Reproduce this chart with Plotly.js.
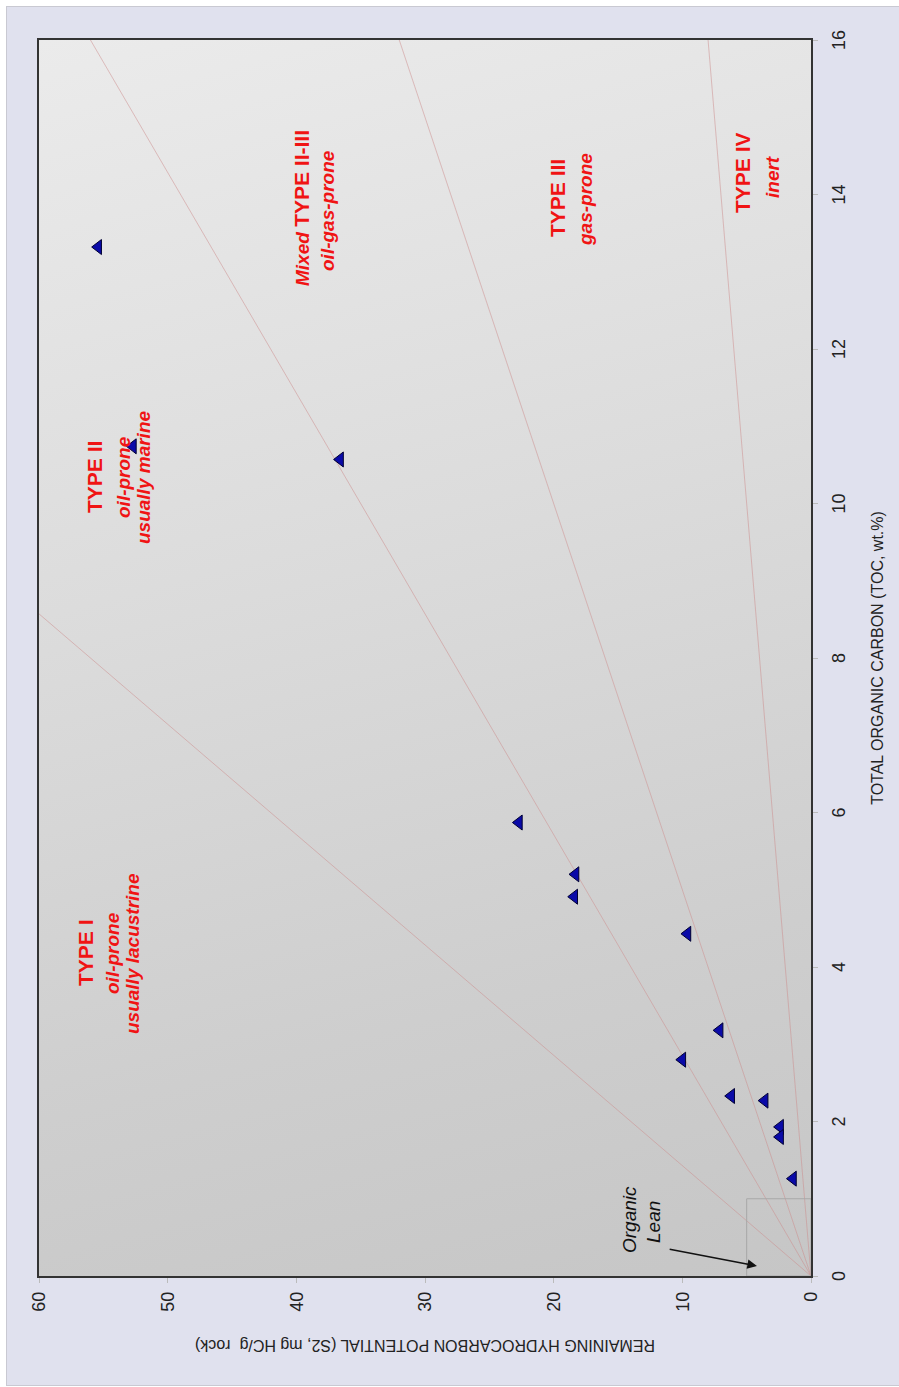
<!DOCTYPE html>
<html>
<head>
<meta charset="utf-8">
<script src="https://cdn.plot.ly/plotly-3.0.1.min.js"></script>
<style>
  html, body { margin:0; padding:0; background:#ffffff; width:899px; height:1387px; overflow:hidden; }
  #frame { position:absolute; left:6px; top:6px; width:893px; height:1378px; background:#e0e1ee;
           border-left:1px solid #c9c9d2; border-top:1px solid #c9c9d2; border-bottom:1px solid #c9c9d2; }
  #grad { position:absolute; left:39px; top:40px; width:772px; height:1236px;
          background:linear-gradient(165deg, #ebebeb 0%, #dcdcdc 40%, #cecece 75%, #c6c6c6 100%); }
  #wrap { position:absolute; left:0; top:0; width:1387px; height:899px;
          transform-origin:0 0; transform:translate(0px,1387px) rotate(-90deg); }
</style>
</head>
<body>
<div id="frame"></div>
<div id="grad"></div>
<div id="wrap"><div id="chart" style="width:1387px;height:899px;"></div></div>
<script>
// ---- data (TOC wt.% vs S2 mg HC/g rock) ----
const tocValues = [13.32, 10.74, 10.57, 5.87, 5.20, 4.91, 4.43, 3.18, 2.80, 2.33, 2.27, 1.93, 1.80, 1.26];
const s2Values  = [55.4, 52.7, 36.6, 22.7, 18.3, 18.4, 9.6, 7.1, 10.0, 6.2, 3.6, 2.4, 2.4, 1.4];

// hydrogen-index boundary lines (mg HC/g TOC)
const hiBoundaries = [700, 350, 200, 50];

// axis ranges / ticks
const tocRange = [0, 16];
const s2Range = [0, 60];
const tocTicks = [0, 2, 4, 6, 8, 10, 12, 14, 16];
const s2Ticks = [0, 10, 20, 30, 40, 50, 60];

// organic lean box limits
const leanTOC = 1;
const leanS2 = 5;

// field labels
const labelTexts = ["<b>TYPE I</b>", "<b><i>oil-prone</i></b>", "<b><i>usually lacustrine</i></b>",
                    "<b>TYPE II</b>", "<b><i>oil-prone</i></b>", "<b><i>usually marine</i></b>",
                    "<b><i>Mixed</i> <span style='font-size:21px'>TYPE II-III</span></b>", "<b><i>oil-gas-prone</i></b>",
                    "<b>TYPE III</b>", "<b><i>gas-prone</i></b>",
                    "<b>TYPE IV</b>", "<b><i>inert</i></b>"];
const labelTOC = [4.19, 4.18, 4.18, 10.34, 10.34, 10.34, 13.83, 13.79, 13.95, 13.93, 14.28, 14.23];
const labelS2  = [56.35, 54.3, 52.7, 55.65, 53.4, 51.9, 39.56, 37.6, 19.74, 17.56, 5.36, 3.03];
const labelIsTitle = [true, false, false, true, false, false, false, false, true, false, true, false];

const leanTexts = ["<i>Organic</i>", "<i>Lean</i>"];
const leanTextTOC = [0.725, 0.70];
const leanTextS2 = [14.07, 12.28];
const arrowHead = [0.13, 4.2];   // TOC, S2
const arrowTail = [0.35, 11.1];  // TOC, S2

// ---- traces ----
const traces = [];
hiBoundaries.forEach(function (hi) {
  const slope = hi / 100;
  let xEnd = tocRange[1], yEnd = slope * tocRange[1];
  if (yEnd > s2Range[1]) { yEnd = s2Range[1]; xEnd = s2Range[1] / slope; }
  traces.push({
    x: [0, xEnd], y: [0, yEnd], mode: 'lines', type: 'scatter', hoverinfo: 'skip',
    line: { color: 'rgba(205,140,140,0.5)', width: 1 }, showlegend: false
  });
});
traces.push({
  x: tocValues, y: s2Values, mode: 'markers', type: 'scatter', showlegend: false,
  marker: { symbol: 'triangle-up', size: 13, color: '#0a0aa8', line: { color: '#000033', width: 1 } }
});

// ---- annotations ----
const annotations = [];
labelTexts.forEach(function (t, i) {
  annotations.push({
    x: labelTOC[i], y: labelS2[i], xref: 'x', yref: 'y', text: t, showarrow: false,
    font: { family: 'Liberation Sans, Arial, sans-serif', size: labelIsTitle[i] ? 21 : 19, color: '#f01414' },
    xanchor: 'center', yanchor: 'middle'
  });
});
leanTexts.forEach(function (t, i) {
  annotations.push({
    x: leanTextTOC[i], y: leanTextS2[i], xref: 'x', yref: 'y', text: t, showarrow: false,
    font: { family: 'Liberation Sans, Arial, sans-serif', size: 19, color: '#111' },
    xanchor: 'center', yanchor: 'middle'
  });
});
annotations.push({
  x: arrowHead[0], y: arrowHead[1], ax: arrowTail[0], ay: arrowTail[1], axref: 'x', ayref: 'y',
  xref: 'x', yref: 'y', text: '', showarrow: true, arrowhead: 2, arrowsize: 1.2, arrowwidth: 1.6, arrowcolor: '#111'
});

const axisCommon = {
  showgrid: false, zeroline: false, showline: true, mirror: true, linecolor: '#333', linewidth: 2,
  ticks: 'outside', ticklen: 5, tickwidth: 1, tickcolor: '#bbbbbb', ticklabelstandoff: 5,
  tickfont: { family: 'Liberation Sans, Arial, sans-serif', size: 18, color: '#222' }
};

const layout = {
  width: 1387, height: 899,
  margin: { l: 111, r: 40, t: 39, b: 88 },
  paper_bgcolor: 'rgba(0,0,0,0)', plot_bgcolor: 'rgba(0,0,0,0)',
  showlegend: false,
  xaxis: Object.assign({}, axisCommon, {
    range: tocRange, tickvals: tocTicks, automargin: false,
    title: { text: 'TOTAL ORGANIC CARBON (TOC, wt.%)', standoff: 24,
             font: { family: 'Liberation Sans, Arial, sans-serif', size: 16, color: '#222' } }
  }),
  yaxis: Object.assign({}, axisCommon, {
    range: s2Range, tickvals: s2Ticks, automargin: false,
    title: { text: 'REMAINING HYDROCARBON POTENTIAL (S2, mg HC/g&nbsp; rock)', standoff: 24,
             font: { family: 'Liberation Sans, Arial, sans-serif', size: 16, color: '#222' } }
  }),
  shapes: [{
    type: 'rect', xref: 'x', yref: 'y', x0: 0, x1: leanTOC, y0: 0, y1: leanS2,
    line: { color: '#a8a8a8', width: 1 }, fillcolor: 'rgba(0,0,0,0)'
  }],
  annotations: annotations
};

Plotly.newPlot('chart', traces, layout, { staticPlot: true, displayModeBar: false });
</script>
</body>
</html>
